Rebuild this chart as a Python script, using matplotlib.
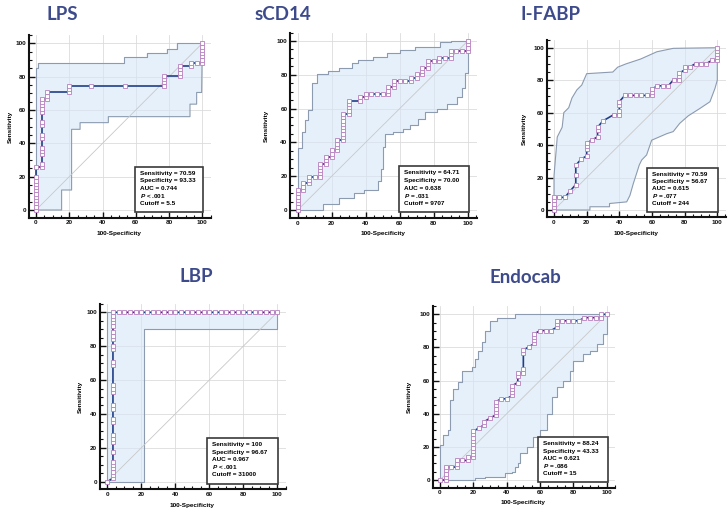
import matplotlib
matplotlib.use("Agg")
import matplotlib.pyplot as plt
from matplotlib.ticker import MultipleLocator
from matplotlib.patches import Polygon, Rectangle

plt.rcParams['font.family'] = ['Liberation Sans', 'DejaVu Sans']
plt.rcParams['font.weight'] = 'bold'
plt.rcParams['mathtext.fontset'] = 'custom'
plt.rcParams['mathtext.it'] = 'Liberation Sans:italic:bold'
plt.rcParams['mathtext.rm'] = 'Liberation Sans:bold'

# ---------------- data (100-Specificity, Sensitivity) ----------------
lps_roc = [(0, 0), (0, 2.0), (0, 3.9), (0, 5.9), (0, 7.8), (0, 9.8), (0, 11.8), (0, 13.7),
           (0, 15.7), (0, 17.6), (0, 19.6), (0, 25.5), (3.33, 25.5), (3.33, 27.5), (3.33, 33.3),
           (3.33, 35.3), (3.33, 37.3), (3.33, 43.1), (3.33, 45.1), (3.33, 51.0), (3.33, 52.9),
           (3.33, 58.8), (3.33, 60.8), (3.33, 62.7), (3.33, 64.7), (3.33, 66.7), (6.67, 66.7),
           (6.67, 68.6), (6.67, 70.6), (20, 70.6), (20, 72.5), (20, 74.5), (33.33, 74.5),
           (53.33, 74.5), (76.67, 74.5), (76.67, 76.5), (76.67, 78.4), (76.67, 80.4), (86.67, 80.4),
           (86.67, 82.4), (86.67, 84.3), (86.67, 86.3), (93.33, 86.3), (93.33, 88.2), (96.67, 88.2),
           (100, 88.2), (100, 90.2), (100, 92.2), (100, 94.1), (100, 96.1), (100, 98.0), (100, 100)]
lps_upper = [(0, 0), (0, 85), (1, 85), (1, 88), (53, 88), (53, 91.5), (66.5, 91.5), (66.5, 94),
             (78.5, 94), (78.5, 96.5), (84.5, 96.5), (84.5, 100), (100, 100)]
lps_lower = [(0, 0), (15.4, 0), (15.4, 12), (21.4, 12), (21.4, 48.4), (26.5, 48.4), (26.5, 52.4),
             (43.5, 52.4), (43.5, 56), (92.6, 56), (92.6, 63.5), (96.6, 63.5), (96.6, 70.5),
             (99.6, 70.5), (100, 100)]
lps_stats = ['Sensitivity = 70.59', 'Specificity = 93.33', 'AUC = 0.744', '$P$ < .001', 'Cutoff = 5.5']

scd14_roc = [(0, 0), (0, 2.0), (0, 3.9), (0, 5.9), (0, 7.8), (0, 9.8), (0, 11.8), (3.33, 11.8),
             (3.33, 13.7), (3.33, 15.7), (6.67, 15.7), (6.67, 17.6), (6.67, 19.6), (10, 19.6),
             (13.33, 19.6), (13.33, 21.6), (13.33, 23.5), (13.33, 25.5), (13.33, 27.5), (16.67, 27.5),
             (16.67, 29.4), (16.67, 31.4), (20, 31.4), (20, 33.3), (20, 35.3), (23.33, 35.3),
             (23.33, 37.3), (23.33, 39.2), (23.33, 41.2), (26.67, 41.2), (26.67, 43.1), (26.67, 45.1),
             (26.67, 47.1), (26.67, 49.0), (26.67, 51.0), (26.67, 52.9), (26.67, 54.9), (26.67, 56.9),
             (30, 56.9), (30, 58.8), (30, 60.8), (30, 62.7), (30, 64.7), (36.67, 64.7), (36.67, 66.7),
             (40, 66.7), (40, 68.6), (43.33, 68.6), (46.67, 68.6), (50, 68.6), (53.33, 68.6),
             (53.33, 70.6), (53.33, 72.5), (56.67, 72.5), (56.67, 74.5), (56.67, 76.5), (60, 76.5),
             (63.33, 76.5), (66.67, 76.5), (66.67, 78.4), (70, 78.4), (70, 80.4), (73.33, 80.4),
             (73.33, 82.4), (73.33, 84.3), (76.67, 84.3), (76.67, 86.3), (76.67, 88.2), (80, 88.2),
             (83.33, 88.2), (83.33, 90.2), (86.67, 90.2), (90, 90.2), (90, 92.2), (90, 94.1),
             (93.33, 94.1), (96.67, 94.1), (100, 94.1), (100, 96.1), (100, 98.0), (100, 100)]
scd14_upper = [(0, 0), (0, 36.5), (2.4, 36.5), (2.4, 46), (4.3, 46), (4.3, 53), (6.3, 53), (6.3, 59),
               (8.2, 59), (8.2, 75), (11.6, 75), (11.6, 80.5), (18, 80.5), (18, 82), (24.5, 82),
               (24.5, 84), (31.8, 84), (31.8, 86.8), (35.7, 86.8), (35.7, 88.8), (44.5, 88.8),
               (44.5, 90.5), (52.4, 90.5), (52.4, 92.7), (60, 92.7), (60, 94.7), (69, 94.7),
               (69, 96.6), (83.7, 96.6), (83.7, 99.2), (90, 99.2), (90, 100), (100, 100)]
scd14_lower = [(0, 0), (15, 0), (15, 3.5), (24.5, 3.5), (24.5, 7), (33, 7), (33, 10), (39, 10),
               (39, 12), (47, 12), (47, 17), (49, 17), (49, 24), (50.4, 24), (50.4, 37.5),
               (51.5, 37.5), (51.5, 45), (56, 45), (56, 46.4), (62, 46.4), (62, 48), (66, 48),
               (66, 50), (71, 50), (71, 54), (75, 54), (75, 58), (82, 58), (82, 60), (87.6, 60),
               (87.6, 62.7), (93.5, 62.7), (93.5, 67), (96.5, 67), (96.5, 72), (98.5, 72),
               (98.5, 81), (100, 81), (100, 100)]
scd14_stats = ['Sensitivity = 64.71', 'Specificity = 70.00', 'AUC = 0.638', '$P$ = .031', 'Cutoff = 9707']

ifabp_roc = [(0, 0), (0, 2.0), (0, 3.9), (0, 5.9), (0, 7.8), (3.33, 7.8), (6.67, 7.8), (10, 11.8),
             (13.33, 15.7), (13.33, 21.6), (13.33, 27.5), (16.67, 31.4), (20, 33.3), (20, 37.3),
             (20, 39.2), (20, 41.2), (23.33, 43.1), (26.67, 45.1), (26.67, 49.0), (26.67, 51.0),
             (30, 54.9), (36.67, 58.8), (40, 58.8), (40, 60.8), (40, 64.7), (40, 66.7), (43.33, 70.6),
             (46.67, 70.6), (50, 70.6), (53.33, 70.6), (56.67, 70.6), (60, 70.6), (60, 72.5),
             (60, 74.5), (63.33, 76.5), (66.67, 76.5), (70, 76.5), (73.33, 80.4), (76.67, 80.4),
             (76.67, 82.4), (76.67, 84.3), (80, 86.3), (80, 88.2), (83.33, 88.2), (86.67, 90.2),
             (90, 90.2), (93.33, 90.2), (96.67, 92.2), (100, 92.2), (100, 94.1), (100, 96.1),
             (100, 98.0), (100, 100)]
ifabp_upper = [(0, 0), (0, 21), (2, 45), (5, 51), (6, 60), (9, 63), (11, 69), (14, 74), (17, 77),
               (20, 84), (36, 85), (39, 88), (44, 90), (53, 93), (63, 97.5), (73, 99.6), (100, 100)]
ifabp_lower = [(0, 0), (22, 0), (22, 2), (34, 2), (34, 4), (44.5, 5), (46.5, 9), (48.6, 16.4),
               (50.6, 22.6), (52.2, 27.7), (53.7, 30.8), (56.7, 33.9), (59.8, 43), (69, 47),
               (73, 48.3), (77, 53.4), (82.2, 58), (89.4, 62.6), (95.5, 66.7), (98.6, 75),
               (100, 80), (100, 100)]
ifabp_stats = ['Sensitivity = 70.59', 'Specificity = 56.67', 'AUC = 0.615', '$P$ = .077', 'Cutoff = 244']

lbp_roc = [(0, 0), (3.33, 2.0), (3.33, 3.9), (3.33, 5.9), (3.33, 7.8), (3.33, 9.8), (3.33, 11.8),
           (3.33, 17.6), (3.33, 23.5), (3.33, 25.5), (3.33, 27.5), (3.33, 35.3), (3.33, 37.3),
           (3.33, 43.1), (3.33, 45.1), (3.33, 52.9), (3.33, 54.9), (3.33, 56.9), (3.33, 68.6),
           (3.33, 70.6), (3.33, 78.4), (3.33, 80.4), (3.33, 84.3), (3.33, 86.3), (3.33, 88.2),
           (3.33, 92.2), (3.33, 94.1), (3.33, 96.1), (3.33, 98.0), (3.33, 100), (6.67, 100),
           (10, 100), (13.33, 100), (16.67, 100), (20, 100), (23.33, 100), (26.67, 100), (30, 100),
           (33.33, 100), (36.67, 100), (40, 100), (43.33, 100), (46.67, 100), (50, 100),
           (53.33, 100), (56.67, 100), (60, 100), (63.33, 100), (66.67, 100), (70, 100),
           (73.33, 100), (76.67, 100), (80, 100), (83.33, 100), (86.67, 100), (90, 100),
           (93.33, 100), (96.67, 100), (100, 100)]
lbp_upper = [(0, 0), (0, 100), (100, 100)]
lbp_lower = [(0, 0), (21.6, 0), (21.6, 90.3), (100, 90.3), (100, 100)]
lbp_stats = ['Sensitivity = 100', 'Specificity = 96.67', 'AUC = 0.967', '$P$ < .001', 'Cutoff = 31000']

endo_roc = [(0, 0), (3.33, 0), (3.33, 2.0), (3.33, 3.9), (3.33, 5.9), (3.33, 7.8), (6.67, 7.8),
            (10, 7.8), (10, 9.8), (10, 11.8), (13.33, 11.8), (16.67, 11.8), (16.67, 13.7), (20, 13.7),
            (20, 15.7), (20, 17.6), (20, 19.6), (20, 21.6), (20, 23.5), (20, 25.5), (20, 27.5),
            (20, 29.4), (23.33, 31.4), (26.67, 33.3), (26.67, 35.3), (30, 37.3), (33.33, 39.2),
            (33.33, 41.2), (33.33, 43.1), (33.33, 45.1), (33.33, 47.1), (36.67, 49.0), (40, 49.0),
            (43.33, 51.0), (43.33, 52.9), (43.33, 54.9), (43.33, 56.9), (46.67, 58.8), (46.67, 62.7),
            (46.67, 64.7), (50, 64.7), (50, 66.7), (50, 76.5), (50, 78.4), (53.33, 80.4),
            (56.67, 82.4), (56.67, 84.3), (56.67, 86.3), (56.67, 88.2), (60, 90.2), (63.33, 90.2),
            (66.67, 90.2), (70, 92.2), (70, 94.1), (70, 96.1), (73.33, 96.1), (76.67, 96.1),
            (80, 96.1), (83.33, 96.1), (86.67, 98.0), (90, 98.0), (93.33, 98.0), (96.67, 98.0),
            (96.67, 100), (100, 100)]
endo_upper = [(0, 0), (0, 21), (1.5, 21), (1.5, 27), (4.5, 27), (4.5, 30), (6, 30), (6, 48), (8, 48),
              (8, 55), (11, 55), (11, 59), (13, 59), (13, 66), (19, 66), (19, 68), (21, 68), (21, 73),
              (23, 73), (23, 78), (25, 78), (25, 83), (27, 83), (27, 90), (30, 90), (30, 96), (34, 96),
              (34, 98), (45, 98), (45, 100), (100, 100)]
endo_lower = [(0, 0), (21, 0), (21, 1), (27, 1), (27, 2), (39, 2), (39, 4), (43, 4), (43, 5), (45, 5),
              (45, 8), (47, 8), (47, 10), (48, 10), (48, 16), (52, 16), (52, 20), (56, 20), (56, 26),
              (60, 26), (60, 30), (64, 30), (64, 40), (67, 40), (67, 50), (70, 50), (70, 56), (74, 56),
              (74, 60), (78, 60), (78, 66), (80, 66), (80, 72), (86, 72), (86, 76), (90, 76), (90, 78),
              (94, 78), (94, 82), (98, 82), (98, 88), (100, 88), (100, 100)]
endo_stats = ['Sensitivity = 88.24', 'Specificity = 43.33', 'AUC = 0.621', '$P$ = .086', 'Cutoff = 15']

ref_line = [0, 100]
ticks_major = 20
ticks_minor = 5

# ---------------- layout (pixels) ----------------
W, H = 728, 511
XMIN, XMAX, YMIN, YMAX = -4.4, 105.2, -4.6, 105.0

fig = plt.figure(figsize=(W / 100, H / 100), dpi=100)
fig.patch.set_facecolor('white')

TITLE_COLOR = '#3d4b8c'
LINE_COLOR = '#1f3f87'
MARK_EDGE = '#b77fbf'


def draw_panel(title, roc, upper, lower, stats, frame, title_xy, ylab_x, xlab_y, box_left):
    px0, px100, py0, py100 = frame
    sx = (px100 - px0) / 100
    sy = (py0 - py100) / 100
    left = px0 + XMIN * sx
    right = px0 + XMAX * sx
    bottom = py0 - YMIN * sy
    top = py0 - YMAX * sy
    ax = fig.add_axes([left / W, 1 - bottom / H, (right - left) / W, (bottom - top) / H])
    ax.set_xlim(XMIN, XMAX)
    ax.set_ylim(YMIN, YMAX)

    # Grid and axes style
    ax.set_axisbelow(True)
    ax.grid(True, which='major', color='#dcdcdc', lw=0.6)
    for s in ['top', 'right']:
        ax.spines[s].set_visible(False)
    for s in ['left', 'bottom']:
        ax.spines[s].set_linewidth(1.5)
        ax.spines[s].set_color('#111111')
    ax.xaxis.set_major_locator(MultipleLocator(ticks_major))
    ax.yaxis.set_major_locator(MultipleLocator(ticks_major))
    ax.xaxis.set_minor_locator(MultipleLocator(ticks_minor))
    ax.yaxis.set_minor_locator(MultipleLocator(ticks_minor))
    ax.tick_params(which='major', direction='in', length=4, width=1, labelsize=4.6,
                   colors='#111111', pad=2)
    ax.tick_params(which='minor', direction='in', length=2.5, width=0.8, colors='#111111')

    # Confidence band
    band = upper + lower[::-1]
    ax.add_patch(Polygon(band, closed=True, fc='#d6e6f7', alpha=0.6, ec='none', zorder=1))
    ux, uy = zip(*upper)
    lx, ly = zip(*lower)
    ax.plot(ux, uy, color='#8c9bb0', lw=0.8, zorder=2)
    ax.plot(lx, ly, color='#8c9bb0', lw=0.8, zorder=2)
    ax.plot(ref_line, ref_line, color='#c8c8c8', lw=0.6, zorder=2)

    # ROC curve with markers
    x, y = zip(*roc)
    ax.plot(x, y, color=LINE_COLOR, lw=1.2, zorder=3)
    ax.plot(x, y, ls='none', marker='s', ms=2.6, mfc='white', mec=MARK_EDGE, mew=0.6, zorder=4)

    # Stats box
    ax.add_patch(Rectangle((box_left, -1.2), 100.6 - box_left, 27.2, fc='white',
                           ec='#3a3a3a', lw=1.2, zorder=5))
    for i, line in enumerate(stats):
        ax.text(box_left + 3, 22 - 4.5 * i, line, fontsize=4.6, fontweight='bold',
                va='center', ha='left', color='black', zorder=6)

    # Titles and labels
    fig.text(title_xy[0] / W, 1 - title_xy[1] / H, title, family='Lato', fontsize=13.5,
             fontweight='bold', color=TITLE_COLOR, ha='center', va='center')
    fig.text(ylab_x / W, 1 - (py0 + py100) / 2 / H, 'Sensitivity', rotation=90, fontsize=4.6,
             fontweight='bold', ha='center', va='center')
    fig.text((px0 + px100) / 2 / W, 1 - xlab_y / H, '100-Specificity', fontsize=4.6,
             fontweight='bold', ha='center', va='center')
    return ax


draw_panel('LPS', lps_roc, lps_upper, lps_lower, lps_stats,
           (36, 202.3, 210, 43.3), (62, 14), 10, 233.5, 59.5)
draw_panel('sCD14', scd14_roc, scd14_upper, scd14_lower, scd14_stats,
           (297.7, 467.7, 210, 41), (283, 14), 266, 233.5, 59.8)
draw_panel('I-FABP', ifabp_roc, ifabp_upper, ifabp_lower, ifabp_stats,
           (554, 717.3, 210, 47.7), (550, 14), 524, 233.5, 56.8)
draw_panel('LBP', lbp_roc, lbp_upper, lbp_lower, lbp_stats,
           (107.3, 277.3, 481.7, 312.3), (196, 276), 80, 505.5, 58.8)
draw_panel('Endocab', endo_roc, endo_upper, endo_lower, endo_stats,
           (440, 606.7, 480, 314.3), (525, 277.5), 409, 502.5, 59)

fig.savefig('out.png', dpi=100)
